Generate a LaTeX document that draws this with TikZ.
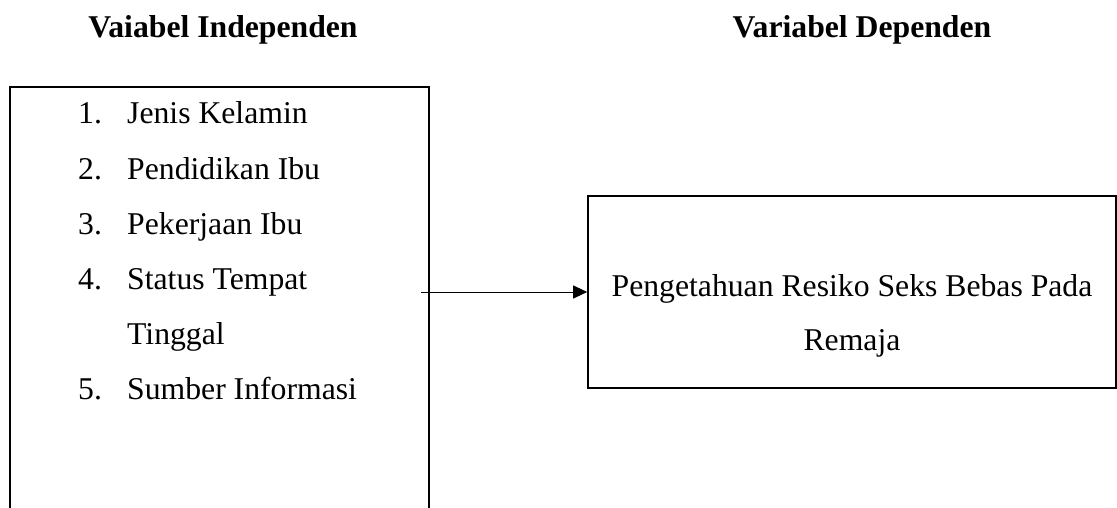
\documentclass[tikz,border=0pt]{standalone}
\usepackage{fontspec}
\setmainfont{Liberation Serif}
\usetikzlibrary{arrows.meta}
\tikzset{
  boxshape/.style={draw=black, line width=1.6pt, rectangle, inner sep=0pt},
  txt/.style={inner sep=0pt, font=\fontsize{31.7}{54.7}\selectfont},
  head/.style={inner sep=0pt, font=\fontsize{31.7}{54.7}\selectfont\bfseries, anchor=base},
  item/.style={txt, anchor=base west},
  conn/.style={line width=1pt, -{Triangle[length=14pt,width=13pt]}}
}
\begin{document}
\begin{tikzpicture}[x=1pt,y=-1pt]
\useasboundingbox (0,0) rectangle (1117,508);
\clip (0,0) rectangle (1117,508);
\fill[white] (0,0) rectangle (1117,508);
% headers
\node[head] (h1) at (223,38) {Vaiabel Independen};
\node[head] (h2) at (862,38) {Variabel Dependen};
% left box (open at the bottom of the picture)
\node[boxshape, anchor=north west, minimum width=419pt, minimum height=480pt] (indep) at (9,86) {};
% list
\node[item] (n1) at (78,124) {1.};
\node[item] (t1) at (127,124) {Jenis Kelamin};
\node[item] (n2) at (78,179) {2.};
\node[item] (t2) at (127,179) {Pendidikan Ibu};
\node[item] (n3) at (78,234) {3.};
\node[item] (t3) at (127,234) {Pekerjaan Ibu};
\node[item] (n4) at (78,289) {4.};
\node[item] (t4) at (127,289) {Status Tempat};
\node[item] (t4b) at (127,344) {Tinggal};
\node[item] (n5) at (78,399) {5.};
\node[item] (t5) at (127,399) {Sumber Informasi};
% right box
\node[boxshape, minimum width=528pt, minimum height=192pt] (dep) at (852,292) {};
\node[txt, anchor=base] (d1) at (852,296) {Pengetahuan Resiko Seks Bebas Pada};
\node[txt, anchor=base] (d2) at (852,350) {Remaja};
% connector
\coordinate (start) at (421,292);
\draw[conn] (start) -- (dep.west);
\end{tikzpicture}
\end{document}
